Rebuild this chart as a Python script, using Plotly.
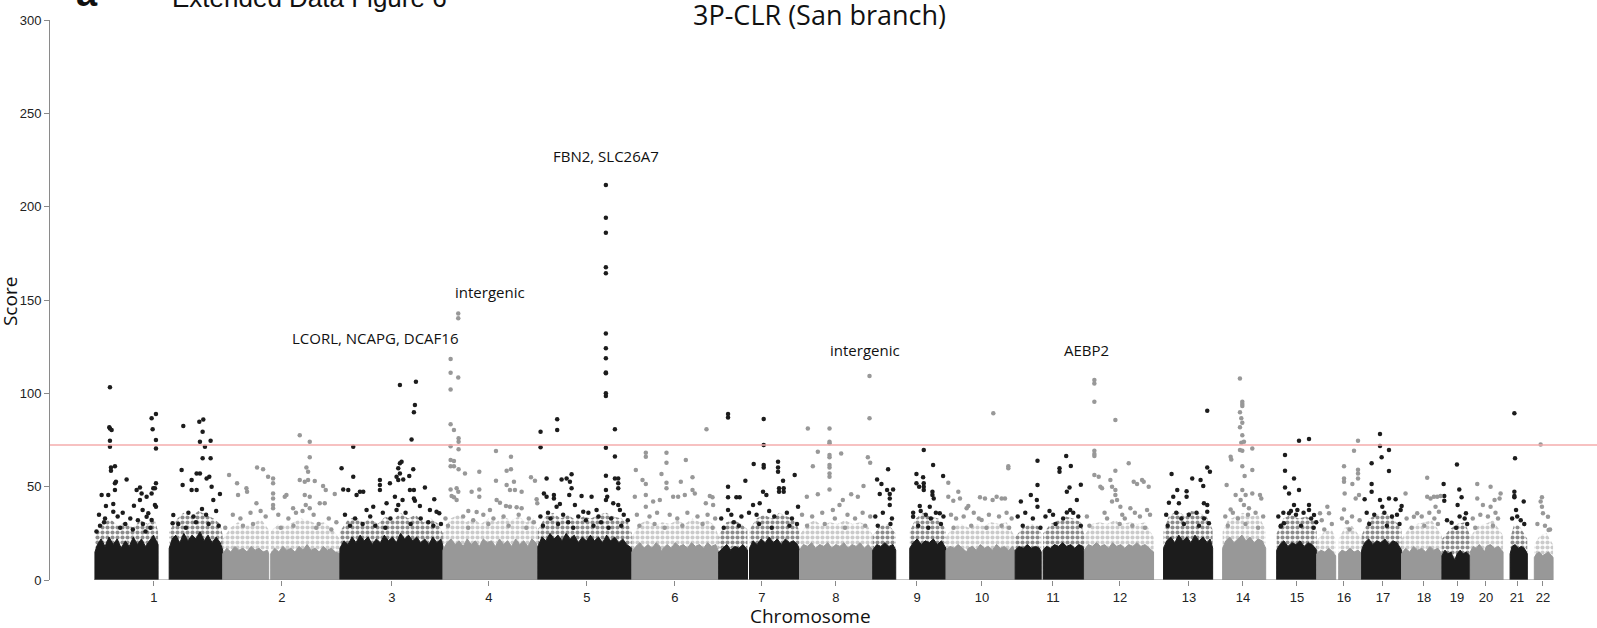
import plotly.graph_objects as go

# chromosome layout (Mb, as plotted: cumulative positions start at 0 for chr1)
chrom_names = [str(i) for i in range(1, 23)]
chrom_len = [253, 232, 204, 188, 186, 172, 160, 145, 145, 137, 137, 137, 117, 105, 101, 89, 79, 80, 56, 65, 48, 51]
# tick label positions (cumulative Mb)
tick_pos = [116.8, 370.3, 588.1, 780.1, 974.2, 1148.4, 1320.7, 1467.1, 1627.6, 1756.3, 1896.8, 2029.5,
            2166.1, 2273.0, 2380.0, 2473.0, 2550.2, 2631.4, 2696.8, 2754.2, 2815.6, 2867.0]
threshold = 72.3

# dense low-score mass per chromosome: segments of (position Mb, upper score)
core_1 = [[(0, 15), (5, 19), (12, 22), (20, 18), (28, 23), (36, 19), (44, 22), (52, 17), (60, 21), (68, 18), (76, 23),
           (84, 19), (92, 22), (100, 18), (108, 21), (116, 24), (125, 19)],
          [(147, 17), (153, 22), (160, 24), (168, 20), (176, 25), (184, 21), (192, 24), (200, 22), (208, 26), (216, 21),
           (224, 24), (232, 20), (240, 23), (248, 20), (253, 16)]]
core_2 = [[(0, 14), (8, 17), (16, 15), (24, 18), (32, 16), (40, 17), (48, 15), (56, 18), (64, 16), (72, 17), (80, 15),
           (88, 16), (91, 14)],
          [(95, 14), (103, 17), (111, 15), (119, 18), (127, 16), (135, 17), (143, 15), (151, 18), (159, 16), (167, 19),
           (175, 16), (183, 17), (191, 15), (199, 18), (207, 16), (215, 17), (223, 15), (232, 14)]]
core_3 = [[(0, 17), (8, 21), (16, 19), (24, 23), (32, 20), (40, 24), (48, 21), (56, 23), (64, 19), (72, 22), (80, 20),
           (88, 24), (96, 21), (104, 23), (112, 20), (120, 25), (128, 22), (136, 24), (144, 21), (152, 23), (160, 20),
           (168, 22), (176, 19), (184, 23), (192, 20), (200, 22), (204, 18)]]
core_4 = [[(0, 16), (8, 20), (16, 22), (24, 19), (32, 21), (40, 18), (48, 22), (56, 19), (64, 21), (72, 18), (80, 22),
           (88, 20), (96, 21), (104, 18), (112, 22), (120, 19), (128, 21), (136, 18), (144, 22), (152, 19), (160, 21),
           (168, 18), (176, 22), (184, 20), (188, 17)]]
core_5 = [[(0, 18), (8, 23), (16, 21), (24, 25), (32, 22), (40, 24), (48, 21), (56, 25), (64, 22), (72, 24), (80, 20),
           (88, 23), (96, 21), (104, 24), (112, 21), (120, 23), (128, 20), (136, 24), (144, 21), (152, 23), (160, 20),
           (168, 22), (176, 19), (186, 17)]]
core_6 = [[(0, 15), (8, 18), (16, 20), (24, 17), (32, 19), (40, 17), (48, 20), (56, 18), (59, 15), (62, 17), (70, 19),
           (78, 17), (86, 20), (94, 18), (102, 19), (110, 17), (118, 20), (126, 18), (134, 19), (142, 17), (150, 20),
           (158, 18), (166, 19), (172, 15)]]
core_7 = [[(0, 15), (8, 17), (16, 19), (24, 16), (32, 18), (40, 17), (48, 19), (57, 16)],
          [(61, 17), (68, 21), (76, 19), (84, 22), (92, 20), (100, 23), (108, 20), (116, 22), (124, 19), (132, 22),
           (140, 20), (148, 21), (156, 19), (160, 16)]]
core_8 = [[(0, 16), (8, 19), (16, 18), (24, 20), (32, 17), (40, 19), (48, 18), (56, 20), (64, 17), (72, 19), (80, 18),
           (88, 20), (96, 17), (104, 19), (112, 18), (120, 20), (128, 17), (136, 19), (145, 16)]]
core_9 = [[(0, 16), (8, 19), (16, 18), (24, 20), (32, 18), (40, 19), (45.5, 16)],
          [(73.3, 17), (80, 20), (88, 22), (96, 19), (104, 21), (112, 20), (120, 22), (128, 19), (136, 21), (145, 17)]]
core_10 = [[(0, 16), (8, 18), (16, 17), (24, 19), (32, 17), (41, 15), (44, 17), (52, 18), (60, 16), (68, 19), (76, 17),
            (84, 18), (92, 16), (100, 19), (108, 17), (116, 18), (124, 16), (132, 18), (137, 15)]]
core_11 = [[(0, 16), (8, 18), (16, 17), (24, 19), (32, 17), (40, 18), (48, 17), (51.5, 15)],
           [(55.4, 16), (62, 18), (70, 17), (78, 19), (86, 18), (94, 20), (102, 18), (110, 19), (118, 17), (126, 19),
            (134, 18), (137, 15)]]
core_12 = [[(0, 16), (8, 19), (16, 18), (24, 20), (32, 18), (40, 19), (48, 17), (56, 20), (64, 18), (72, 19), (80, 17),
            (88, 19), (96, 18), (104, 20), (112, 18), (120, 19), (128, 17), (137, 15)]]
core_13 = [[(19.8, 17), (26, 21), (34, 23), (42, 20), (50, 24), (58, 21), (66, 23), (74, 20), (82, 24), (90, 21),
            (98, 23), (106, 20), (112, 22), (117, 17)]]
core_14 = [[(19.8, 17), (26, 21), (34, 23), (42, 20), (50, 22), (58, 24), (66, 21), (74, 23), (82, 20), (90, 22),
            (98, 21), (105, 17)]]
core_15 = [[(21.8, 16), (28, 19), (36, 21), (44, 18), (52, 20), (60, 19), (68, 21), (76, 18), (84, 20), (92, 19),
            (101, 16)]]
core_16 = [[(0, 14), (8, 16), (16, 15), (24, 17), (32, 15), (37.6, 13)],
           [(43.6, 14), (50, 16), (58, 15), (66, 17), (74, 15), (82, 16), (89, 14)]]
core_17 = [[(0, 16), (6, 20), (14, 22), (22, 19), (30, 21), (38, 20), (46, 22), (54, 19), (62, 21), (70, 20), (79, 16)]]
core_18 = [[(0, 14), (8, 17), (16, 15), (24, 18), (32, 16), (40, 17), (48, 15), (56, 18), (64, 16), (72, 17), (80, 14)]]
core_19 = [[(0, 13), (6, 16), (12, 14), (18, 15), (22, 12), (26, 11), (30, 14), (36, 16), (42, 14), (48, 15), (56, 13)]]
core_20 = [[(0, 15), (6, 18), (12, 17), (18, 19), (24, 17), (28, 15), (32, 18), (40, 19), (48, 17), (56, 18), (65, 15)]]
core_21 = [[(13.9, 14), (18, 18), (24, 19), (30, 17), (36, 18), (42, 17), (48, 14)]]
core_22 = [[(13.9, 12), (18, 14), (24, 15), (30, 13), (36, 14), (42, 15), (51, 12)]]

# upper reach of the speckled (thinning) band above each dense mass
fringe_1 = [[(0, 24), (15, 30), (30, 33), (45, 29), (60, 31), (75, 28), (90, 32), (105, 30), (118, 33), (125, 26)],
            [(147, 26), (160, 32), (175, 36), (190, 34), (205, 37), (220, 35), (235, 33), (248, 30), (253, 24)]]
fringe_2 = [[(0, 22), (15, 28), (30, 31), (45, 29), (60, 30), (75, 33), (91, 27)],
            [(95, 26), (110, 30), (125, 29), (140, 31), (155, 33), (170, 32), (185, 30), (200, 31), (215, 28), (232, 22)]]
fringe_3 = [[(0, 26), (15, 32), (30, 34), (45, 31), (60, 33), (75, 30), (90, 34), (105, 32), (120, 36), (135, 33),
             (150, 35), (165, 31), (180, 33), (195, 30), (204, 25)]]
fringe_4 = [[(0, 25), (15, 33), (30, 35), (45, 31), (60, 33), (75, 30), (90, 33), (105, 31), (120, 34), (135, 32),
             (150, 34), (165, 31), (180, 33), (188, 26)]]
fringe_5 = [[(0, 27), (15, 34), (30, 36), (45, 33), (60, 35), (75, 32), (90, 34), (105, 33), (120, 35), (135, 36),
             (150, 34), (165, 33), (178, 31), (186, 25)]]
fringe_6 = [[(0, 23), (15, 30), (30, 32), (45, 29), (60, 31), (75, 30), (90, 32), (105, 30), (120, 33), (135, 31),
             (150, 32), (165, 29), (172, 23)]]
fringe_7 = [[(0, 24), (15, 31), (30, 32), (45, 30), (57, 27)],
            [(61, 27), (75, 33), (90, 35), (105, 33), (120, 36), (135, 34), (150, 33), (160, 26)]]
fringe_8 = [[(0, 24), (15, 30), (30, 32), (45, 29), (60, 31), (75, 30), (90, 32), (105, 30), (120, 31), (135, 29),
             (145, 24)]]
fringe_9 = [[(0, 24), (15, 29), (30, 30), (45.5, 25)],
            [(73.3, 26), (85, 33), (100, 36), (115, 34), (130, 33), (145, 27)]]
fringe_10 = [[(0, 23), (15, 29), (30, 30), (45, 28), (60, 30), (75, 29), (90, 31), (105, 30), (120, 31), (137, 23)]]
fringe_11 = [[(0, 23), (15, 28), (30, 30), (45, 29), (51.5, 25)],
             [(55.4, 25), (70, 30), (85, 32), (100, 34), (115, 33), (130, 31), (137, 24)]]
fringe_12 = [[(0, 24), (15, 30), (30, 31), (45, 30), (60, 32), (75, 30), (90, 31), (105, 30), (120, 31), (137, 23)]]
fringe_13 = [[(19.8, 26), (30, 34), (45, 37), (60, 35), (75, 37), (90, 36), (105, 34), (117, 27)]]
fringe_14 = [[(19.8, 26), (30, 32), (45, 34), (60, 36), (75, 34), (90, 35), (105, 27)]]
fringe_15 = [[(21.8, 25), (35, 33), (50, 35), (65, 33), (80, 34), (95, 32), (101, 26)]]
fringe_16 = [[(0, 21), (15, 26), (30, 27), (37.6, 22)], [(43.6, 22), (55, 28), (70, 29), (89, 22)]]
fringe_17 = [[(0, 24), (15, 33), (30, 35), (45, 36), (60, 34), (79, 27)]]
fringe_18 = [[(0, 22), (15, 28), (30, 30), (45, 31), (60, 32), (80, 24)]]
fringe_19 = [[(0, 22), (15, 27), (30, 30), (45, 31), (56, 24)]]
fringe_20 = [[(0, 23), (15, 29), (30, 30), (45, 32), (65, 24)]]
fringe_21 = [[(13.9, 22), (22, 30), (32, 29), (48, 22)]]
fringe_22 = [[(13.9, 19), (25, 24), (38, 25), (51, 19)]]

# individual SNP scores above the dense mass: (position Mb, score)
pts_1 = [(29.7, 103.2), (28.4, 81.8), (29.7, 81.2), (33, 80.3), (29.7, 74.6), (29.7, 71.4), (31.7, 60.3), (39.6, 61),
         (31.7, 58.5), (39.6, 51.8), (41.6, 52.7), (13.2, 45.5), (26.4, 45.5), (39.6, 48.2), (21.8, 39.6), (36.3, 40.7),
         (36.3, 36.6), (62.7, 53.9), (82.5, 48.2), (89.1, 49.6), (92.4, 46.4), (102.3, 44.6), (77.2, 39.8), (89.1, 42.9),
         (94.4, 37.5), (112.2, 86.6), (120.8, 88.9), (114.2, 80.7), (120.8, 75), (120.8, 70.5), (112.2, 46.4),
         (115.5, 49.1), (120.8, 51.8), (118.8, 49.1), (118.8, 40.2), (120.8, 39.3), (102.3, 33.9), (112.2, 32.1),
         (105.6, 35.7), (174.9, 82.5), (206.6, 84.8), (214.5, 86), (213.2, 79.4), (207.9, 74.1), (229, 74.6),
         (217.8, 71.4), (213.2, 65.2), (229, 65.2), (171.6, 58.9), (201.3, 57.1), (207.9, 57.1), (173.6, 50.9),
         (191.4, 53.6), (191.4, 48.2), (201.3, 48.2), (221.1, 54.4), (226.4, 55.3), (231, 50), (247.5, 46.1),
         (234.3, 42.9), (155.1, 34.8), (153.8, 30.4), (185, 36), (195, 34), (212, 38), (220, 35), (240, 37), (165, 30),
         (200, 31), (225, 30), (245, 29), (180, 28), (60, 30), (70, 33), (50, 28), (10, 29), (18, 31), (85, 32), (95, 30),
         (110, 28), (3, 26), (45, 34), (55, 36), (75, 27), (100, 26), (8, 35), (20, 33)]
pts_2 = [(12.6, 56.2), (28.4, 51.8), (30.4, 45.5), (46.9, 49.1), (48.2, 47.3), (66.7, 41.1), (68, 60.3), (79.9, 59.3),
         (89.8, 55.3), (99.7, 54.4), (99.7, 51.8), (99.7, 46.4), (99.7, 43.7), (99.7, 40.2), (99.7, 38.4), (122.8, 44.6),
         (126.1, 45.5), (139.3, 38.4), (152.5, 77.6), (169, 58), (172.3, 74.1), (172.3, 65.7), (165.7, 60.3),
         (169, 53.6), (162.4, 45.5), (164.4, 40.2), (172.3, 44.6), (172.3, 38.4), (152.5, 53.6), (162.4, 52.7),
         (182.2, 53), (198.7, 50.3), (204, 48.2), (221.8, 46.1), (192.1, 41.1), (202, 41.1), (20, 35), (35, 33),
         (55, 36), (75, 37), (85, 34), (110, 35), (130, 33), (145, 36), (158, 37), (180, 35), (190, 30), (210, 33),
         (225, 31), (5, 28), (40, 29), (60, 30), (115, 28), (140, 29), (185, 28), (215, 27)]
pts_3 = [(3.3, 59.8), (26.4, 71.4), (26.4, 55.3), (6.6, 48.5), (16.5, 48.2), (33, 45.5), (39.6, 47.3), (46.2, 47.3),
         (79.2, 53.6), (79.2, 50.9), (79.2, 48.2), (99, 51.8), (115.5, 59.8), (118.8, 62.5), (112.2, 55.3),
         (115.5, 53.6), (108.9, 44.6), (115.5, 40.2), (112.2, 37.5), (52.8, 37.5), (66, 39.3), (92.4, 41.1),
         (118.8, 104.4), (150.5, 106.2), (148.5, 93.7), (146.5, 89.8), (141.9, 75.3), (122.1, 63.4), (118.8, 57.1),
         (125.4, 53.9), (137.3, 55.7), (145.2, 59.3), (138.6, 48.2), (146.5, 48.2), (168.3, 49.6), (124.1, 42.8),
         (146.5, 43.7), (148.5, 42.5), (186.8, 43.2), (158.4, 39.6), (178.2, 37.5), (191.4, 36.6), (196.7, 35.7),
         (10, 35), (30, 33), (60, 34), (85, 36), (100, 33), (130, 36), (160, 33), (175, 31), (20, 29), (45, 30),
         (70, 29), (90, 28), (140, 30), (185, 29), (200, 30)]
pts_4 = [(30.3, 142.8), (30.3, 140.2), (15.2, 118.4), (15.2, 111), (30.3, 108.5), (15.2, 102.1), (15.2, 83.4),
         (21.8, 80.3), (31, 75.9), (31, 74.1), (31, 70), (15.2, 71.7), (105, 69.1), (134.7, 66), (15.2, 64.3),
         (21.8, 63.7), (15.2, 61), (21.8, 61), (31, 59.3), (43.6, 57.1), (72, 58), (126.1, 58.5), (134.7, 59.3),
         (105, 53.2), (126.1, 50.9), (140.6, 52.7), (174.3, 55), (182.2, 53.2), (15.2, 48.5), (27.1, 49.1),
         (30.4, 47.3), (56.8, 47.3), (72, 48.5), (132.7, 48.2), (142.6, 48.2), (155.8, 47.3), (17.2, 45), (21.8, 44.3),
         (27.1, 42.9), (72, 44.6), (106.3, 42.9), (112.9, 41.4), (124.8, 39.6), (132.7, 39.3), (185.5, 43.2),
         (186.8, 41.1), (50.2, 36.9), (66.7, 36.4), (93.1, 37.5), (145.9, 39), (155.8, 38.4), (5, 33), (40, 34),
         (60, 32), (80, 35), (100, 33), (120, 34), (150, 35), (170, 33), (10, 29), (50, 28), (90, 30), (130, 29),
         (165, 28), (180, 31)]
pts_5 = [(134.6, 211.6), (134.6, 194.1), (134.6, 186), (134.6, 167.5), (134.6, 164.3), (134.6, 132.1), (134.6, 124.1),
         (134.6, 118.8), (134.6, 111.2), (134.6, 110.7), (134.6, 100), (134.6, 98.6), (134.6, 70.9), (5.3, 79.4),
         (5.3, 71.1), (38.2, 86.1), (38.2, 80.4), (152.5, 80.8), (152.5, 66.1), (134.7, 55.9), (134.7, 48.2),
         (137.3, 44.6), (134.7, 42.9), (152.5, 54.4), (159.1, 54.4), (159.1, 51.8), (159.1, 49.1), (149.2, 41.1),
         (159.1, 40.2), (162.4, 37.5), (17.2, 54.4), (11.9, 46.4), (17.2, 44.6), (31.7, 45.5), (31.7, 43.7),
         (46.9, 53.9), (56.8, 54.4), (66.7, 56.6), (63.4, 52.7), (66.7, 49.1), (62.1, 45.5), (86.5, 45), (106.3, 44.6),
         (37, 39.3), (43.6, 40.7), (73.3, 40.2), (89.8, 36.6), (116.2, 37.5), (5, 34), (20, 36), (25, 33), (50, 35),
         (60, 31), (80, 34), (95, 32), (100, 36), (120, 34), (125, 31), (145, 33), (170, 35), (178, 32), (10, 29),
         (40, 30), (70, 28), (110, 29), (140, 28), (165, 29)]
pts_6 = [(147.8, 80.7), (27.7, 68.2), (27.7, 66), (68.6, 68.2), (68.6, 62.8), (106.9, 64.3), (7.9, 58.9), (21.1, 53.6),
         (58.7, 56.8), (68.6, 52.1), (68.6, 49.1), (97, 52.7), (120.1, 55), (27.7, 51.4), (5.9, 44.6), (27.7, 45.5),
         (27.7, 39.3), (81.8, 44.6), (91.7, 44.6), (104.9, 45.5), (120.1, 48.2), (124.7, 46.4), (146.5, 41.1),
         (154.4, 45), (159.7, 44.3), (161, 40.2), (42.2, 42), (55.4, 42.9), (10, 35), (35, 34), (50, 36), (75, 35),
         (90, 33), (110, 36), (130, 34), (150, 35), (165, 33), (15, 29), (45, 30), (65, 28), (100, 29), (140, 30),
         (160, 28)]
pts_7 = [(18.5, 88.9), (18.5, 87.1), (89.1, 86.2), (89.1, 72.3), (89.1, 61.6), (89.1, 60.3), (69.3, 62.1), (18.5, 50),
         (18.5, 44.3), (35, 44.3), (41.6, 44.3), (18.5, 37.5), (52.8, 53.2), (117.5, 63.4), (117.5, 60.3), (117.5, 58),
         (119.5, 49.1), (119.5, 47.3), (128.7, 49.1), (128.7, 47.3), (127.4, 53.2), (150.5, 56.2), (68, 40.2),
         (87.8, 47.3), (94.4, 45.5), (81.2, 41.1), (157.1, 39.3), (5, 33), (25, 35), (30, 31), (45, 34), (60, 36),
         (75, 35), (100, 37), (110, 34), (135, 36), (145, 33), (10, 28), (40, 29), (80, 30), (105, 28), (140, 29),
         (155, 30)]
pts_8 = [(16.5, 81.2), (59.4, 81.2), (59.4, 74.1), (59.4, 73.2), (59.4, 67), (59.4, 65.7), (59.4, 61.6), (59.4, 60.3),
         (59.4, 57.1), (59.4, 55.3), (59.4, 48.5), (36.3, 68.7), (26.4, 61), (82.5, 67.8), (138.6, 109.3),
         (138.6, 86.6), (135.3, 65.7), (139.9, 62.8), (14.5, 44.6), (36.3, 46), (126.7, 50.3), (85.8, 42.9),
         (102.3, 46), (115.5, 44.6), (66, 37.5), (79.2, 40.2), (5, 35), (25, 34), (45, 36), (70, 33), (95, 35),
         (110, 33), (125, 36), (140, 34), (15, 29), (50, 30), (90, 28), (130, 29)]
pts_9 = [(30.4, 59.3), (8.6, 53.9), (17.2, 51.4), (13.9, 46.1), (28.4, 48.2), (33.7, 46.1), (33.7, 43.7), (40.3, 48.5),
         (33.7, 40.2), (101, 69.6), (119.5, 61.6), (139.3, 55.7), (86.5, 56.8), (99.7, 55), (101, 51.8), (101, 50),
         (101, 48.2), (118.2, 47.3), (118.2, 45.5), (120.8, 43.7), (86.5, 51.8), (91.8, 50), (79.9, 33.9), (93.1, 39.6),
         (112.9, 39.3), (132.7, 35.7), (5, 34), (20, 36), (38, 33), (80, 36), (95, 37), (105, 35), (115, 33), (125, 36),
         (140, 34), (10, 29), (35, 30), (90, 29), (110, 28), (135, 30)]
pts_10 = [(93.7, 89.3), (123.4, 61), (123.4, 59.8), (4.6, 52.1), (4.6, 44.6), (14.5, 42.5), (27.7, 43.7), (24.4, 47.3),
          (67.3, 44.3), (77.2, 43.7), (92.4, 42.9), (100.3, 44.6), (110.2, 43.7), (116.8, 43.7), (40.9, 38.4),
          (44.2, 39.6), (70.6, 32.1), (10, 35), (20, 33), (35, 34), (55, 36), (65, 33), (85, 35), (105, 34), (120, 36),
          (130, 33), (15, 28), (50, 29), (80, 28), (110, 29), (125, 28)]
pts_11 = [(44.2, 63.9), (44.2, 50.9), (31, 45.5), (11.2, 42), (42.9, 42.9), (44.2, 39.3), (68, 36.9), (101, 66.4),
          (87.8, 59.8), (87.8, 58), (110.2, 61.1), (107.6, 49.6), (102.3, 47.3), (130, 51), (122.1, 42.9), (102.3, 36.1),
          (108.9, 37.5), (5, 34), (20, 36), (35, 33), (60, 34), (75, 35), (95, 33), (115, 36), (125, 34), (15, 29),
          (50, 28), (80, 30), (130, 29)]
pts_12 = [(19.8, 107.1), (19.8, 105.3), (19.8, 95.5), (19.8, 69.3), (19.8, 67.5), (19.8, 66.4), (61.4, 85.7),
          (87.8, 62.5), (61.4, 58.5), (19.8, 56.2), (28.4, 55.3), (51.5, 53.6), (54.8, 50), (61.4, 48.2), (61.4, 45.5),
          (64.7, 42.9), (54.8, 42), (97.7, 52.7), (104.3, 51.4), (114.2, 53.6), (117.5, 52.7), (127.4, 50), (31.7, 50),
          (35, 49.1), (71.3, 39.3), (91.1, 38.4), (124.1, 37.5), (5, 34), (40, 36), (45, 33), (75, 35), (80, 33),
          (100, 36), (110, 34), (130, 35), (10, 29), (70, 30), (95, 29), (120, 28)]
pts_13 = [(35.7, 56.8), (76.6, 54.4), (46.9, 48.2), (39, 44.6), (65.4, 47.6), (65.4, 44.6), (30.4, 41.4), (50.2, 41.1),
          (106.3, 90.7), (106.3, 60.3), (111.6, 58), (98.4, 50.3), (93.1, 53.6), (99.7, 41.1), (106.3, 40.2),
          (106.3, 36.6), (109.6, 30.4), (25, 35), (45, 36), (55, 33), (70, 35), (85, 36), (100, 33), (28, 29), (60, 30),
          (90, 29)]
pts_14 = [(54, 108), (58.7, 95.5), (58.7, 94.3), (58.7, 93.2), (54.1, 89.8), (56.7, 86.6), (58.7, 84.2), (54.1, 81.8),
          (58.7, 77.6), (56.7, 73.5), (54.1, 69.6), (58.7, 69.3), (62, 74.1), (35.6, 66), (36.9, 64.6), (78.5, 70.5),
          (58.7, 61), (63.3, 55.7), (78.5, 58.9), (27.7, 50.9), (35.6, 37.8), (45.5, 45.5), (58.7, 48.2), (65.3, 45.5),
          (78.5, 46.4), (93.7, 45.5), (96.3, 43.7), (55.4, 42.9), (62, 40.2), (71.9, 38.4), (25, 34), (40, 36), (50, 33),
          (70, 35), (85, 36), (100, 34), (30, 29), (65, 30), (90, 28)]
pts_15 = [(66, 74.6), (85.8, 75.5), (38.3, 67), (38.3, 58.5), (56.1, 54.4), (38.3, 49.6), (46.2, 46.4), (66, 48.2),
          (56.1, 40.2), (46.2, 35.7), (62.7, 37.5), (85.8, 40.2), (95.7, 34.8), (85.8, 37.5), (29.7, 28.6), (36.3, 30.4),
          (25, 34), (35, 36), (50, 37), (60, 35), (75, 36), (90, 33), (100, 31), (30, 29), (70, 29), (95, 28)]
pts_16 = [(81.8, 74.6), (73.9, 69.3), (54.1, 61), (54.1, 54.4), (54.1, 52.7), (55.4, 46.4), (54.1, 37.8), (70.6, 51.4),
          (81.8, 59), (81.8, 57.1), (81.8, 54.4), (77.2, 43.7), (83.8, 45.5), (6.6, 35.7), (21.1, 39.3), (24.4, 35.7),
          (10, 32), (30, 30), (50, 33), (60, 31), (70, 34), (85, 32), (15, 27), (65, 27)]
pts_17 = [(36.3, 78.2), (36.3, 71.8), (54.1, 69.6), (39.6, 65.7), (19.8, 62.5), (54.1, 58.4), (19.8, 51.4), (19.8, 47.3),
          (5.9, 43.2), (36.3, 42.9), (54.1, 43.7), (67.3, 43.2), (40.9, 39.3), (79.2, 39.6), (77.2, 37.5), (10, 36),
          (25, 35), (45, 36), (60, 34), (70, 35), (15, 30), (50, 29), (75, 30)]
pts_18 = [(50.8, 54.8), (7.9, 46.4), (24.4, 33.9), (31, 35.7), (50.8, 44.6), (57.4, 43.7), (64, 44.6), (70.6, 44.6),
          (77.2, 45), (67.3, 39.3), (73.9, 36.6), (10, 33), (40, 34), (55, 36), (65, 33), (20, 28), (45, 29), (72, 30)]
pts_19 = [(29.7, 61.9), (3.3, 51.4), (4.6, 45), (4.6, 42.5), (34.3, 48.5), (38.9, 44.3), (31, 40.2), (47.5, 35.7),
          (19.1, 30.7), (10, 32), (35, 34), (45, 33), (50, 30), (28, 28)]
pts_20 = [(13.9, 51.4), (40.3, 50), (60.1, 46.4), (58.1, 43.7), (13.9, 43.7), (25.1, 40.2), (40.3, 39.3), (48.2, 42.9),
          (5, 33), (20, 35), (35, 34), (50, 36), (55, 33), (10, 28), (45, 29)]
pts_21 = [(22.4, 89.3), (23.7, 65.2), (22.4, 47.3), (22.4, 45), (22.4, 44.3), (40.9, 42), (25.7, 37.5), (18, 33),
          (28, 34), (35, 32), (42, 30)]
pts_22 = [(26.4, 72.6), (29, 44.3), (26.4, 42), (29, 39.3), (31, 35.7), (40.9, 33.9), (42.2, 26.8), (20, 30), (35, 29),
          (45, 27)]

core_by_chrom = [core_1, core_2, core_3, core_4, core_5, core_6, core_7, core_8, core_9, core_10, core_11, core_12,
                 core_13, core_14, core_15, core_16, core_17, core_18, core_19, core_20, core_21, core_22]
fringe_by_chrom = [fringe_1, fringe_2, fringe_3, fringe_4, fringe_5, fringe_6, fringe_7, fringe_8, fringe_9, fringe_10,
                   fringe_11, fringe_12, fringe_13, fringe_14, fringe_15, fringe_16, fringe_17, fringe_18, fringe_19,
                   fringe_20, fringe_21, fringe_22]
pts_by_chrom = [pts_1, pts_2, pts_3, pts_4, pts_5, pts_6, pts_7, pts_8, pts_9, pts_10, pts_11, pts_12,
                pts_13, pts_14, pts_15, pts_16, pts_17, pts_18, pts_19, pts_20, pts_21, pts_22]

# peak labels: (cumulative Mb, score, text)
peak_labels = [(554.4, 129.9, "LCORL, NCAPG, DCAF16"), (782.1, 154.2, "intergenic"), (1011.8, 227.0, "FBN2, SLC26A7"),
               (1524.6, 123.0, "intergenic"), (1964.2, 123.0, "AEBP2")]

BLACK = "#1c1c1c"
GRAY = "#989898"
AXIS = "#8a8a8a"
TICK_FONT = dict(family="Liberation Sans, Arial", size=13, color="#222222")
LABEL_FONT = "Open Sans"

# cumulative offsets
offsets = []
acc = 0
for L in chrom_len:
    offsets.append(acc)
    acc += L
genome_end = acc


def outline(segs, off):
    # closed outline of each segment down to score 0, segments split by None
    xs, ys = [], []
    for seg in segs:
        xs += [off + seg[0][0]] + [off + p for p, s in seg] + [off + seg[-1][0], None]
        ys += [0] + [s for p, s in seg] + [0, None]
    return xs, ys


fig = go.Figure()

# speckled band (thinning dots) and dense masses
for i in range(22):
    col = BLACK if i % 2 == 0 else GRAY
    xs, ys = outline(fringe_by_chrom[i], offsets[i])
    fig.add_trace(go.Scatter(x=xs, y=ys, mode="none", fill="toself", fillcolor="rgba(0,0,0,0)",
                             fillpattern=dict(shape=".", fgcolor=col, bgcolor="rgba(0,0,0,0)", size=5, solidity=0.55),
                             hoverinfo="skip", showlegend=False))
    xs, ys = outline(core_by_chrom[i], offsets[i])
    fig.add_trace(go.Scatter(x=xs, y=ys, mode="lines", fill="toself", fillcolor=col,
                             line=dict(width=1, color=col), hoverinfo="skip", showlegend=False))

# individual points, one trace per colour
for parity, col in [(0, BLACK), (1, GRAY)]:
    xs, ys = [], []
    for i, pts in enumerate(pts_by_chrom):
        if i % 2 != parity:
            continue
        xs += [offsets[i] + p for p, s in pts]
        ys += [s for p, s in pts]
    fig.add_trace(go.Scatter(x=xs, y=ys, mode="markers", marker=dict(size=4.5, color=col, line=dict(width=0)),
                             cliponaxis=False, showlegend=False))

# genome-wide threshold
fig.add_shape(type="line", xref="paper", x0=0, x1=1, y0=threshold, y1=threshold,
              line=dict(color="#f5acac", width=1.5))
# x axis line over the data range only
fig.add_shape(type="line", x0=0, x1=genome_end, y0=0, y1=0, line=dict(color=AXIS, width=1))

for x, y, txt in peak_labels:
    fig.add_annotation(x=x, y=y, text=txt, showarrow=False, xanchor="center", yanchor="middle",
                       font=dict(family=LABEL_FONT, size=15, color="#111111"))

fig.add_annotation(xref="paper", yref="paper", x=0.4977, y=1.009, text="3P-CLR (San branch)", showarrow=False,
                   xanchor="center", yanchor="middle", font=dict(family=LABEL_FONT, size=27, color="#111111"))
fig.add_annotation(xref="paper", yref="paper", x=0.0776, y=1.0393, text="Extended Data Figure 6", showarrow=False,
                   xanchor="left", yanchor="middle", font=dict(family="Liberation Sans, Arial", size=26, color="#111111"))
fig.add_annotation(xref="paper", yref="paper", x=0.024, y=1.0486, text="<b>a</b>", showarrow=False,
                   xanchor="center", yanchor="middle", font=dict(family="Liberation Sans, Arial", size=38, color="#111111"))
fig.add_annotation(xref="paper", yref="paper", x=0.4919, y=-0.0643, text="Chromosome", showarrow=False,
                   xanchor="center", yanchor="middle", font=dict(family=LABEL_FONT, size=19, color="#111111"))
fig.add_annotation(xref="paper", yref="paper", x=-0.0259, y=0.498, text="Score", showarrow=False, textangle=-90,
                   xanchor="center", yanchor="middle", font=dict(family=LABEL_FONT, size=19, color="#111111"))

fig.update_layout(
    width=1597, height=628,
    margin=dict(l=50, r=0, t=20, b=48),
    paper_bgcolor="white", plot_bgcolor="white",
    xaxis=dict(range=[-89, 2974], showgrid=False, zeroline=False, showline=False,
               tickmode="array", tickvals=tick_pos, ticktext=chrom_names,
               ticks="outside", ticklen=5, tickcolor=AXIS, tickfont=TICK_FONT),
    yaxis=dict(range=[0, 300], showgrid=False, zeroline=False, showline=True, linecolor=AXIS, linewidth=1,
               tickmode="array", tickvals=[0, 50, 100, 150, 200, 250, 300],
               ticks="outside", ticklen=5, tickcolor=AXIS, tickfont=TICK_FONT),
)

# page body has a default margin; remove it so the figure sits at the window origin
fig.write_html("out.html", config={"displayModeBar": False},
               post_script="document.body.style.margin='0px';")
